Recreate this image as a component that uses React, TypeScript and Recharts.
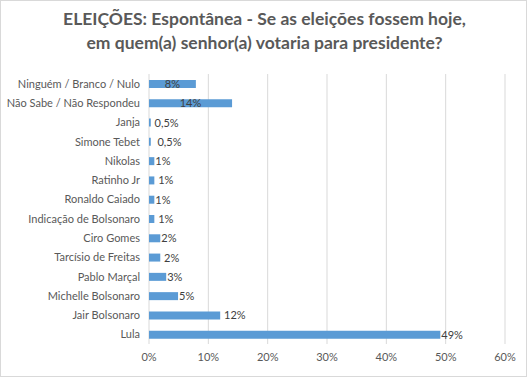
import { BarChart, Bar, XAxis, YAxis, CartesianGrid, LabelList } from "recharts"

const categories = [
  "Ninguém / Branco / Nulo",
  "Não Sabe / Não Respondeu",
  "Janja",
  "Simone Tebet",
  "Nikolas",
  "Ratinho Jr",
  "Ronaldo Caiado",
  "Indicação de Bolsonaro",
  "Ciro Gomes",
  "Tarcísio de Freitas",
  "Pablo Marçal",
  "Michelle Bolsonaro",
  "Jair Bolsonaro",
  "Lula",
]

const values = [7.9, 14, 0.3, 0.3, 0.9, 0.9, 0.9, 0.9, 1.9, 1.9, 2.9, 4.9, 12, 49.1]

const valueLabels = ["8%", "14%", " 0,5%", "  0,5%", "1%", " 1%", "1%", " 1%", "2%", " 2%", "3%", "5%", " 12%", "49%"]

// these two got their label put inside the bar in the original
const centeredLabels = ["Ninguém / Branco / Nulo", "Não Sabe / Não Respondeu"]

const xTicks = [0, 10, 20, 30, 40, 50, 60]

const rows = categories.map((name, i) => ({ name, value: values[i], label: valueLabels[i] }))

const FONT = "Lato, 'Open Sans', sans-serif"

function ValueLabel(props: any) {
  const { x, y, width, height, index } = props
  const row = rows[index]
  const centered = centeredLabels.includes(row.name)
  return (
    <text
      x={centered ? x + width / 2 : x + width + 1}
      y={y + height / 2}
      dy={4}
      textAnchor={centered ? "middle" : "start"}
      fill="#404040"
      fontSize={11}
      fontFamily={FONT}
      style={{ whiteSpace: "pre" }}
    >
      {row.label}
    </text>
  )
}

function CategoryTick(props: any) {
  const { x, y, payload } = props
  return (
    <text x={x} y={y} dy={4} textAnchor="end" fill="#595959" fontSize={11} fontFamily={FONT}>
      {payload.value}
    </text>
  )
}

export default function App() {
  return (
    <div
      style={{
        position: "absolute",
        left: 0,
        top: 0,
        width: 527,
        height: 377,
        boxSizing: "border-box",
        border: "1px solid #d9d9d9",
        background: "#fff",
      }}
    >
      <div
        style={{
          position: "absolute",
          left: 0,
          top: 6,
          width: 527,
          textAlign: "center",
          fontFamily: FONT,
          fontWeight: 700,
          fontSize: 17.5,
          lineHeight: "24px",
          color: "#595959",
        }}
      >
        ELEIÇÕES: Espontânea - Se as eleições fossem hoje,
        <br />
        em quem(a) senhor(a) votaria para presidente?
      </div>
      <div style={{ position: "absolute", left: -1, top: -1 }}>
        <BarChart
          width={527}
          height={377}
          data={rows}
          layout="vertical"
          margin={{ top: 74, right: 22, bottom: 0, left: 0 }}
        >
          <CartesianGrid horizontal={false} stroke="#d9d9d9" />
          <XAxis
            type="number"
            domain={[0, 60]}
            ticks={xTicks}
            interval={0}
            tickFormatter={(v: number) => `${v}%`}
            axisLine={false}
            tickLine={false}
            tickSize={0}
            tickMargin={9}
            height={33}
            tick={{ fill: "#595959", fontSize: 11, fontFamily: FONT }}
          />
          <YAxis
            type="category"
            dataKey="name"
            width={149}
            axisLine={false}
            tickLine={false}
            tickSize={0}
            tickMargin={9}
            interval={0}
            tick={<CategoryTick />}
          />
          <Bar dataKey="value" fill="#5b9bd5" barSize={8} isAnimationActive={false}>
            <LabelList dataKey="label" content={ValueLabel} />
          </Bar>
        </BarChart>
      </div>
    </div>
  )
}
